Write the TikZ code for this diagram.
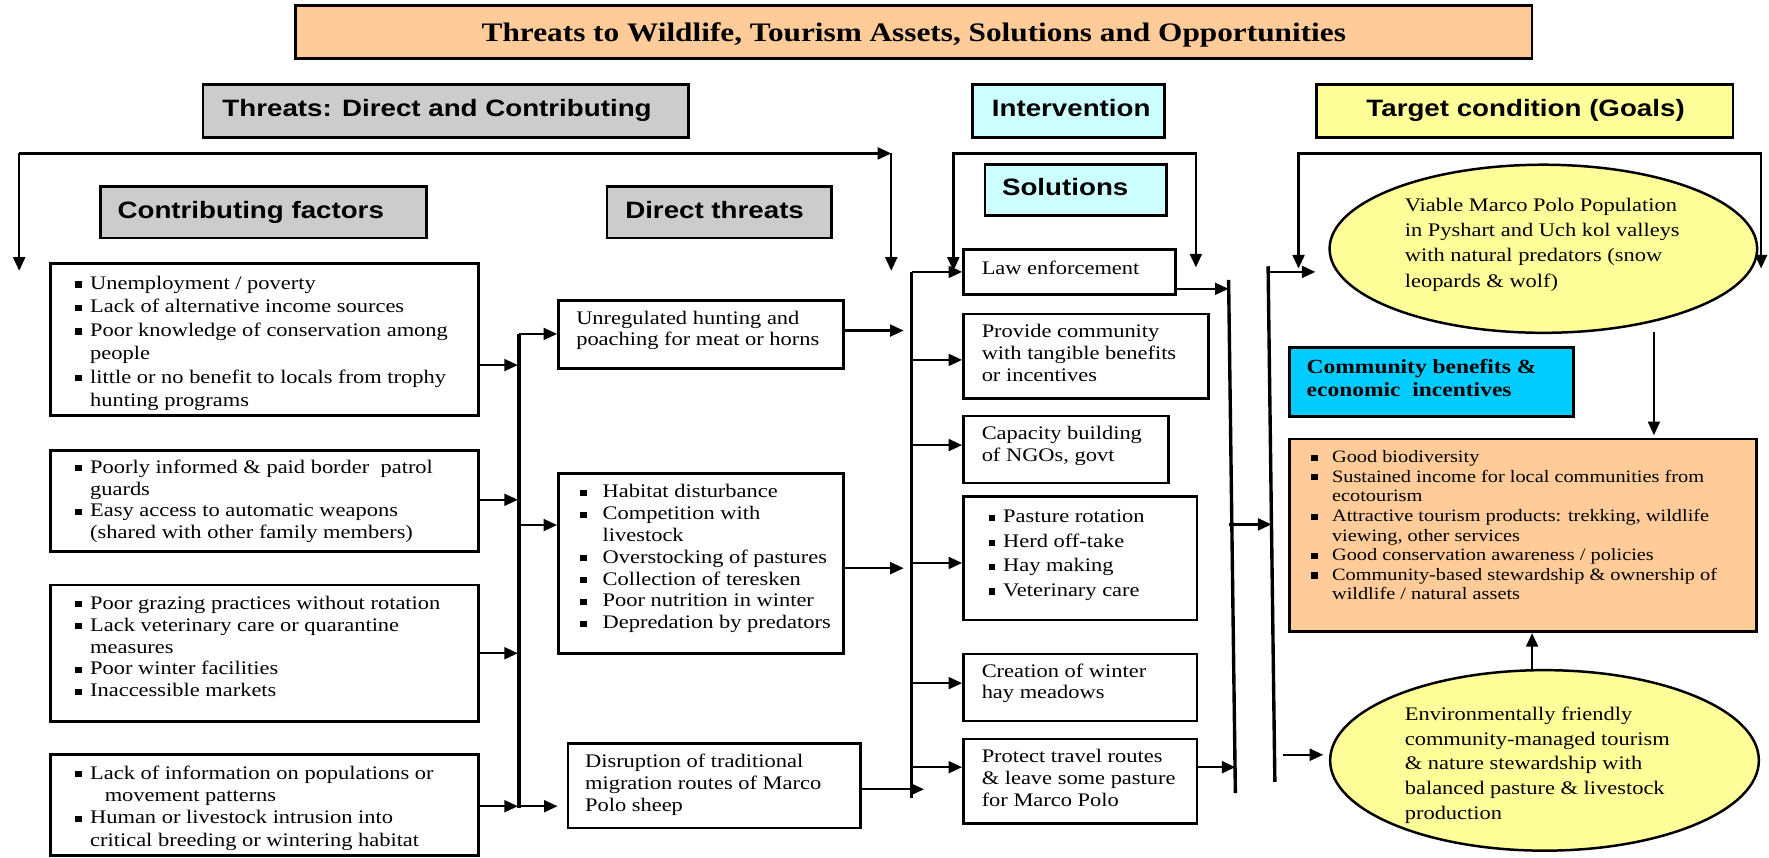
\documentclass[tikz,border=0pt]{standalone}
\usepackage{fontspec}
\setmainfont{Liberation Serif}[FakeStretch=1.17]
\newfontfamily\hdfont{Liberation Sans}[FakeStretch=1.17]
\usetikzlibrary{arrows.meta,shapes.geometric,fit}

\definecolor{peach}{HTML}{FFCC99}
\definecolor{headgray}{HTML}{CCCCCC}
\definecolor{lcyan}{HTML}{CCFFFF}
\definecolor{lyellow}{HTML}{FFFF99}
\definecolor{bcyan}{HTML}{00CCFF}

% square bullet, bulleted line start, continuation indent, block of lines
\newcommand\sqb{\rule[1.6pt]{5.8pt}{5.4pt}}
\newcommand\bl[1][13]{\makebox[#1pt][l]{\sqb}}
\newcommand\cl[1][13]{\hspace*{#1pt}}
\newcommand\tlines[2]{\parbox[t]{#1}{\raggedright #2}}

\tikzset{
  box/.style={draw, line width=2.4pt, inner sep=0pt, fill=white},
  hbox/.style={box, fill=headgray},
  ell/.style={draw, line width=2.2pt, ellipse, inner sep=0pt, fill=lyellow},
  lbl/.style={anchor=base west, inner sep=0pt},
  body/.style={lbl, font=\fontsize{17}{19.5}\selectfont},
  head/.style={lbl, font=\hdfont\bfseries\fontsize{21}{24}\selectfont},
  arr/.style={line width=2.1pt, -{Triangle[length=12pt,width=10.5pt]}},
  barr/.style={line width=2.1pt, {Triangle[length=12pt,width=10.5pt]}-{Triangle[length=12pt,width=10.5pt]}},
  bar/.style={line width=3pt},
}

\begin{document}
\begin{tikzpicture}[x=1pt,y=-1pt]
\useasboundingbox (0,0) rectangle (1568,760);

% ---------- title and column headings ----------
\node[box, fill=peach, fit={(262,5) (1358,52)}] (tbox) {};
\node[lbl, anchor=base, font=\bfseries\fontsize{23.7}{28}\selectfont] (ttl) at (810,37)
  {Threats to Wildlife, Tourism Assets, Solutions and Opportunities};

\node[hbox, fit={(180,75) (610,122)}] (hthr) {};
\node[head] (hthrt) at (197,103.5) {Threats: Direct and Contributing};
\node[box, fill=lcyan, fit={(862,75) (1032,122)}] (hint) {};
\node[head] (hintt) at (879,103.5) {Intervention};
\node[box, fill=lyellow, fit={(1167,75) (1536,122)}] (hgoal) {};
\node[head] (hgoalt) at (1211,103.5) {Target condition (Goals)};

\node[hbox, fit={(89,165) (378,211)}] (hcf) {};
\node[head] (hcft) at (104,193.5) {Contributing factors};
\node[hbox, fit={(538,165) (737,211)}] (hdt) {};
\node[head] (hdtt) at (554,193.5) {Direct threats};
\node[box, fill=lcyan, fit={(873,146) (1034,191)}] (hsol) {};
\node[head] (hsolt) at (888,173) {Solutions};

% ---------- brackets under the headings ----------
\coordinate (tl) at (17,136);  \coordinate (tld) at (17,240);
\coordinate (tr) at (790,136); \coordinate (trd) at (790,240);
\draw[arr] (tl) -- (tld);
\draw[arr] (tl) -- (tr);
\draw[arr] (tr) -- (trd);

\coordinate (il) at (845,136); \coordinate (ild) at (845,240);
\coordinate (ir) at (1060,136); \coordinate (ird) at (1060,237);
\draw[barr] (ild) -- (il) -- (ir) -- (ird);

\coordinate (gl) at (1151,136); \coordinate (gld) at (1151,238);
\coordinate (gr) at (1561,136); \coordinate (grd) at (1561,238);
\draw[barr] (gld) -- (gl) -- (gr) -- (grd);

% ---------- contributing factors ----------
\node[box, fit={(45,233.5) (424,368.5)}] (cf1) {};
\node[body, font=\fontsize{17}{20.8}\selectfont] (cf1t) at (66.7,256.5) {\tlines{350pt}{%
  \bl Unemployment / poverty\\
  \bl Lack of alternative income sources\\
  \bl Poor knowledge of conservation among\\
  \cl people\\
  \bl little or no benefit to locals from trophy\\
  \cl hunting programs}};

\node[box, fit={(45,399) (424,489)}] (cf2) {};
\node[body, font=\fontsize{17}{19.3}\selectfont] (cf2t) at (66.7,419.5) {\tlines{350pt}{%
  \bl Poorly informed \& paid border \ patrol\\
  \cl guards\\
  \bl Easy access to automatic weapons\\
  \cl (shared with other family members)}};

\node[box, fit={(45,518.6) (424,639.7)}] (cf3) {};
\node[body, font=\fontsize{17}{19.4}\selectfont] (cf3t) at (66.7,540) {\tlines{350pt}{%
  \bl Poor grazing practices without rotation\\
  \bl Lack veterinary care or quarantine\\
  \cl measures\\
  \bl Poor winter facilities\\
  \bl Inaccessible markets}};

\node[box, fit={(45,669) (424,758)}] (cf4) {};
\node[body, font=\fontsize{17}{19.9}\selectfont] (cf4t) at (66.7,690.5) {\tlines{350pt}{%
  \bl Lack of information on populations or\\
  \cl[21] movement patterns\\
  \bl Human or livestock intrusion into\\
  \cl critical breeding or wintering habitat}};

% ---------- direct threats ----------
\node[box, fit={(495,266.5) (747.5,326.4)}] (dt1) {};
\node[body, font=\fontsize{17}{19.1}\selectfont] (dt1t) at (510.6,287.5) {\tlines{240pt}{%
  Unregulated hunting and\\ poaching for meat or horns}};

\node[box, fit={(495,419.5) (747.5,579)}] (dt2) {};
\node[body, font=\fontsize{17}{19.4}\selectfont] (dt2t) at (514,441) {\tlines{240pt}{%
  \bl[15] Habitat disturbance\\
  \bl[15] Competition with\\
  \cl[15] livestock\\
  \bl[15] Overstocking of pastures\\
  \bl[15] Collection of teresken\\
  \bl[15] Poor nutrition in winter\\
  \bl[15] Depredation by predators}};

\node[box, fit={(503.4,658.8) (763,734)}] (dt3) {};
\node[body, font=\fontsize{17}{19.5}\selectfont] (dt3t) at (518.4,680.5) {\tlines{240pt}{%
  Disruption of traditional\\ migration routes of Marco\\ Polo sheep}};

% ---------- solutions ----------
\node[box, fit={(854,221) (1042,261)}] (sol1) {};
\node[body] (sol1t) at (870,243) {Law enforcement};

\node[box, fit={(854,278.4) (1071,353)}] (sol2) {};
\node[body, font=\fontsize{17}{19.2}\selectfont] (sol2t) at (870,299.5) {\tlines{200pt}{%
  Provide community\\ with tangible benefits\\ or incentives}};

\node[box, fit={(854,368.8) (1035.5,428)}] (sol3) {};
\node[body, font=\fontsize{17}{18.7}\selectfont] (sol3t) at (870,390) {\tlines{200pt}{%
  Capacity building\\ of NGOs, govt}};

\node[box, fit={(854,440) (1061,549.6)}] (sol4) {};
\node[body, font=\fontsize{17}{21.7}\selectfont] (sol4t) at (876,463.5) {\tlines{200pt}{%
  \bl Pasture rotation\\
  \bl Herd off-take\\
  \bl Hay making\\
  \bl Veterinary care}};

\node[box, fit={(854,579.8) (1061,639)}] (sol5) {};
\node[body, font=\fontsize{17}{19}\selectfont] (sol5t) at (870,600.5) {\tlines{200pt}{%
  Creation of winter\\ hay meadows}};

\node[box, fit={(854,655) (1061,729.8)}] (sol6) {};
\node[body, font=\fontsize{17}{19.5}\selectfont] (sol6t) at (870,675.5) {\tlines{200pt}{%
  Protect travel routes\\ \& leave some pasture\\ for Marco Polo}};

% ---------- goals ----------
\node[ell, minimum width=379pt, minimum height=149pt] (g1) at (1368,220.5) {};
\node[body, font=\fontsize{17}{22.3}\selectfont] (g1t) at (1245,187.5) {\tlines{260pt}{%
  Viable Marco Polo Population\\ in Pyshart and Uch kol valleys\\
  with natural predators (snow\\ leopards \& wolf)}};

\node[box, fill=bcyan, fit={(1143,308) (1395,369)}] (cbox) {};
\node[lbl, font=\bfseries\fontsize{17.8}{20}\selectfont] (cboxt) at (1158,331.5) {\tlines{240pt}{%
  Community benefits \&\\ economic \ incentives}};

\node[box, fill=peach, fit={(1143,389) (1557,560)}] (obox) {};
\node[body, font=\fontsize{15.4}{17.4}\selectfont] (oboxt) at (1162,410) {\tlines{390pt}{%
  \bl[14] Good biodiversity\\
  \bl[14] Sustained income for local communities from\\
  \cl[14] ecotourism\\
  \bl[14] Attractive tourism products: trekking, wildlife\\
  \cl[14] viewing, other services\\
  \bl[14] Good conservation awareness / policies\\
  \bl[14] Community-based stewardship \& ownership of\\
  \cl[14] wildlife / natural assets}};

\node[ell, minimum width=380pt, minimum height=160pt] (g2) at (1369,674) {};
\node[body, font=\fontsize{17}{22}\selectfont] (g2t) at (1245,638.5) {\tlines{260pt}{%
  Environmentally friendly\\ community-managed tourism\\ \& nature stewardship with\\
  balanced pasture \& livestock\\ production}};

% ---------- vertical collector bars ----------
\coordinate (b1t) at (460,296); \coordinate (b1b) at (460,716);
\coordinate (b2t) at (808,241); \coordinate (b2b) at (808,707);
\coordinate (bat) at (1089,248); \coordinate (bab) at (1095,703);
\coordinate (bbt) at (1124,236); \coordinate (bbb) at (1130,693);
\coordinate (bbm) at (1127,464.8);
\draw[bar] (b1t) -- (b1b);
\draw[bar] (b2t) -- (b2b);
\draw[bar] (bat) -- (bab);
\draw[bar] (bbt) -- (bbb);

% contributing factors into the first bar
\draw[arr, shorten >=1pt] (cf1.east |- 0,323.6) -- (b1t |- 0,323.6);
\draw[arr, shorten >=1pt] (cf2.east |- 0,443) -- (b1t |- 0,443);
\draw[arr, shorten >=1pt] (cf3.east |- 0,579) -- (b1t |- 0,579);
\draw[arr, shorten >=1pt] (cf4.east |- 0,714.6) -- (b1t |- 0,714.6);

% first bar out to the direct threats
\draw[arr] (b1t) -- (dt1.west |- b1t);
\draw[arr] (b1t |- 0,465.4) -- (dt2.west |- 0,465.4);
\draw[arr, shorten >=8pt] (b1t |- 0,714.6) -- (dt3.west |- 0,714.6);

% direct threats into the second bar
\draw[arr, shorten >=7pt] (dt1.east |- 0,293) -- (b2t |- 0,293);
\draw[arr, shorten >=7pt] (dt2.east |- 0,503.6) -- (b2t |- 0,503.6);
\draw[arr, shorten >=-11pt] (dt3.east |- 0,699.6) -- (b2t |- 0,699.6);

% second bar out to the solutions
\draw[arr] (b2t) -- (sol1.west |- b2t);
\draw[arr] (b2t |- 0,319) -- (sol2.west |- 0,319);
\draw[arr] (b2t |- 0,394.5) -- (sol3.west |- 0,394.5);
\draw[arr] (b2t |- 0,499) -- (sol4.west |- 0,499);
\draw[arr] (b2t |- 0,605.5) -- (sol5.west |- 0,605.5);
\draw[arr] (b2t |- 0,680) -- (sol6.west |- 0,680);

% solutions into the goal bars
\draw[arr, line width=1.6pt] (sol1.east |- 0,256) -- (bat |- 0,256);
\draw[arr] (sol6.east |- 0,680) -- (bab |- 0,680);
\draw[arr] (bat |- 0,464.8) -- (bbm);
\draw[arr, shorten >=11.5pt] (bbt |- 0,241) -- (g1.west |- 0,241);
\draw[arr, shorten <=7pt, shorten >=5pt] (bbb |- 0,669) -- (g2.west |- 0,669);

% goals into the benefits box
\draw[arr, line width=1.6pt, shorten <=-2pt, shorten >=2pt] (g1.south -| 1466,0) -- (obox.north -| 1466,0);
\draw[arr] (g2.north -| 1358,0) -- (obox.south -| 1358,0);

\end{tikzpicture}
\end{document}
